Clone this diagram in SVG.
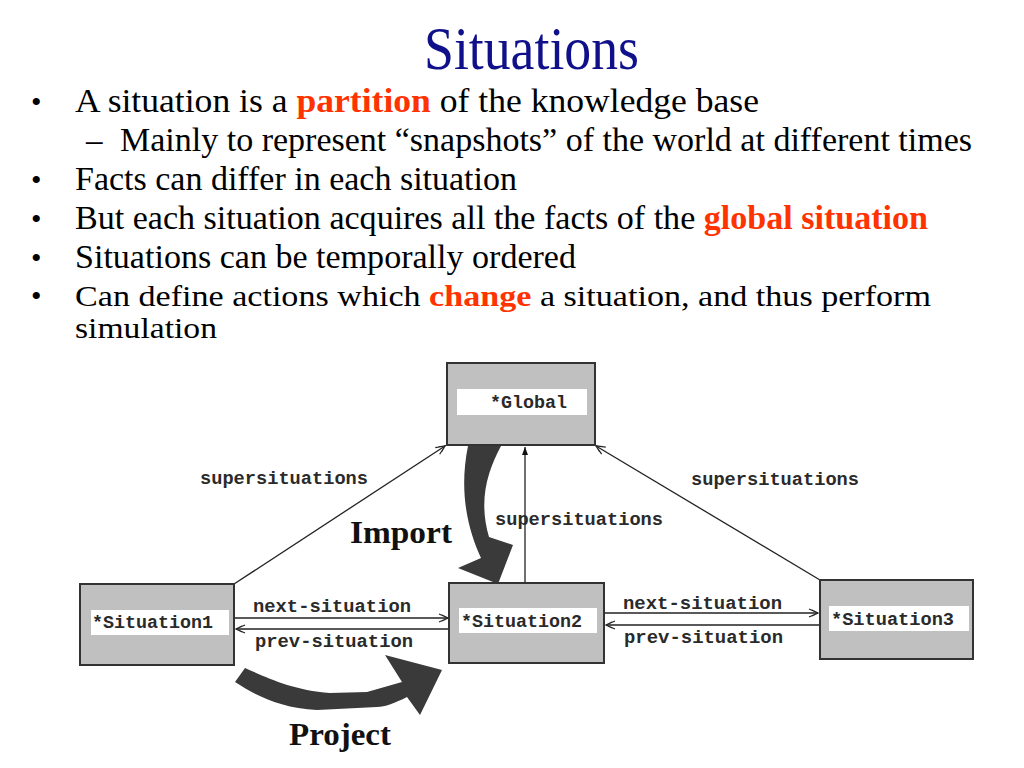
<svg xmlns="http://www.w3.org/2000/svg" width="1024" height="768" viewBox="0 0 1024 768">
<style>
.body{font-family:"Liberation Serif","Times New Roman",serif;font-size:33px;fill:#000}
.red{fill:#ff3300;font-weight:bold}
.box{fill:#c0c0c0;stroke:#333;stroke-width:2}
.lbl{fill:#fff}
.mono{font-family:"Liberation Mono","Courier New",monospace;font-size:18.3px;font-weight:bold;fill:#2a2a2a}
.edge{stroke:#222;stroke-width:1.3;fill:none}
.big{font-family:"Liberation Serif","Times New Roman",serif;font-size:32px;font-weight:bold;fill:#111}
.thick{fill:#3a3a3a}
</style>
<defs>
<marker id="ah" markerWidth="12" markerHeight="10" refX="10" refY="5" orient="auto" markerUnits="userSpaceOnUse">
<path d="M1,1 L10,5 L1,9 M4,2 L10,5 L4,8" fill="none" stroke="#222" stroke-width="1.2"/>
</marker>
<marker id="ahs" markerWidth="10" markerHeight="10" refX="8" refY="5" orient="auto" markerUnits="userSpaceOnUse">
<path d="M0,2 L8,5 L0,8 Z" fill="#111"/>
</marker>
</defs>
<rect width="1024" height="768" fill="#fff"/>

<text x="424" y="69" font-family="Liberation Serif, Times New Roman, serif" font-size="62" fill="#10108a" textLength="215" lengthAdjust="spacingAndGlyphs">Situations</text>

<g class="body">
<text x="31" y="112" font-size="30">•</text>
<text x="75" y="112" textLength="684" lengthAdjust="spacingAndGlyphs">A situation is a <tspan class="red">partition</tspan> of the knowledge base</text>
<text x="86" y="151">–</text>
<text x="120" y="151" textLength="852" lengthAdjust="spacingAndGlyphs">Mainly to represent “snapshots” of the world at different times</text>
<text x="31" y="190" font-size="30">•</text>
<text x="75" y="190" textLength="442" lengthAdjust="spacingAndGlyphs">Facts can differ in each situation</text>
<text x="31" y="229" font-size="30">•</text>
<text x="75" y="229" textLength="853" lengthAdjust="spacingAndGlyphs">But each situation acquires all the facts of the <tspan class="red">global situation</tspan></text>
<text x="31" y="268" font-size="30">•</text>
<text x="75" y="268" textLength="501" lengthAdjust="spacingAndGlyphs">Situations can be temporally ordered</text>
<text x="31" y="306" font-size="30">•</text>
<text x="75" y="306" font-size="29" textLength="856" lengthAdjust="spacingAndGlyphs">Can define actions which <tspan class="red">change</tspan> a situation, and thus perform</text>
<text x="75" y="338" font-size="29" textLength="142" lengthAdjust="spacingAndGlyphs">simulation</text>
</g>

<g id="connectors">
<line class="edge" x1="234" y1="584" x2="445" y2="446" marker-end="url(#ah)"/>
<line class="edge" x1="525" y1="583" x2="525" y2="447" marker-end="url(#ahs)"/>
<line class="edge" x1="820" y1="580" x2="596" y2="446" marker-end="url(#ah)"/>
<line class="edge" x1="235" y1="618" x2="448" y2="618" marker-end="url(#ah)"/>
<line class="edge" x1="449" y1="629" x2="236" y2="629" marker-end="url(#ah)"/>
<line class="edge" x1="605" y1="613" x2="818" y2="613" marker-end="url(#ah)"/>
<line class="edge" x1="820" y1="625" x2="606" y2="625" marker-end="url(#ah)"/>
<text class="mono" x="200" y="484" textLength="168" lengthAdjust="spacingAndGlyphs">supersituations</text>
<text class="mono" x="495" y="525" textLength="168" lengthAdjust="spacingAndGlyphs">supersituations</text>
<text class="mono" x="691" y="485" textLength="168" lengthAdjust="spacingAndGlyphs">supersituations</text>
<text class="mono" x="253" y="612" textLength="158" lengthAdjust="spacingAndGlyphs">next-situation</text>
<text class="mono" x="255" y="647" textLength="158" lengthAdjust="spacingAndGlyphs">prev-situation</text>
<text class="mono" x="623" y="609" textLength="159" lengthAdjust="spacingAndGlyphs">next-situation</text>
<text class="mono" x="624" y="643" textLength="159" lengthAdjust="spacingAndGlyphs">prev-situation</text>
</g>

<g id="import">
<path class="thick" d="M468,446 L501,446 C488,470 478,500 489,537 L513,545 L498,584 L458,568 L481,558 C467,528 459,490 468,446 Z"/>
<text class="big" x="350" y="543" textLength="102" lengthAdjust="spacingAndGlyphs">Import</text>
</g>

<g id="project">
<path class="thick" d="M245,668 C268,678 292,690 330,693 L367,692 L402,682 L385,655 L442,670 L420,715 L407,697 C395,703 385,707 377,707 L317,710 C280,708 255,695 235,682 Z"/>
<text class="big" x="289" y="745" textLength="102" lengthAdjust="spacingAndGlyphs">Project</text>
</g>

<g id="global">
<rect class="box" x="447" y="363" width="148" height="82"/>
<rect class="lbl" x="457" y="389" width="130" height="26"/>
<text class="mono" x="490" y="408" textLength="77" lengthAdjust="spacingAndGlyphs">*Global</text>
</g>

<g id="situation1">
<rect class="box" x="80" y="584" width="154" height="81"/>
<rect class="lbl" x="91" y="610" width="138" height="25"/>
<text class="mono" x="92" y="628" textLength="121" lengthAdjust="spacingAndGlyphs">*Situation1</text>
</g>

<g id="situation2">
<rect class="box" x="449" y="583" width="155" height="80"/>
<rect class="lbl" x="459" y="608" width="138" height="25"/>
<text class="mono" x="461" y="627" textLength="121" lengthAdjust="spacingAndGlyphs">*Situation2</text>
</g>

<g id="situation3">
<rect class="box" x="820" y="580" width="153" height="79"/>
<rect class="lbl" x="829" y="606" width="140" height="25"/>
<text class="mono" x="831" y="625" textLength="123" lengthAdjust="spacingAndGlyphs">*Situation3</text>
</g>
</svg>
